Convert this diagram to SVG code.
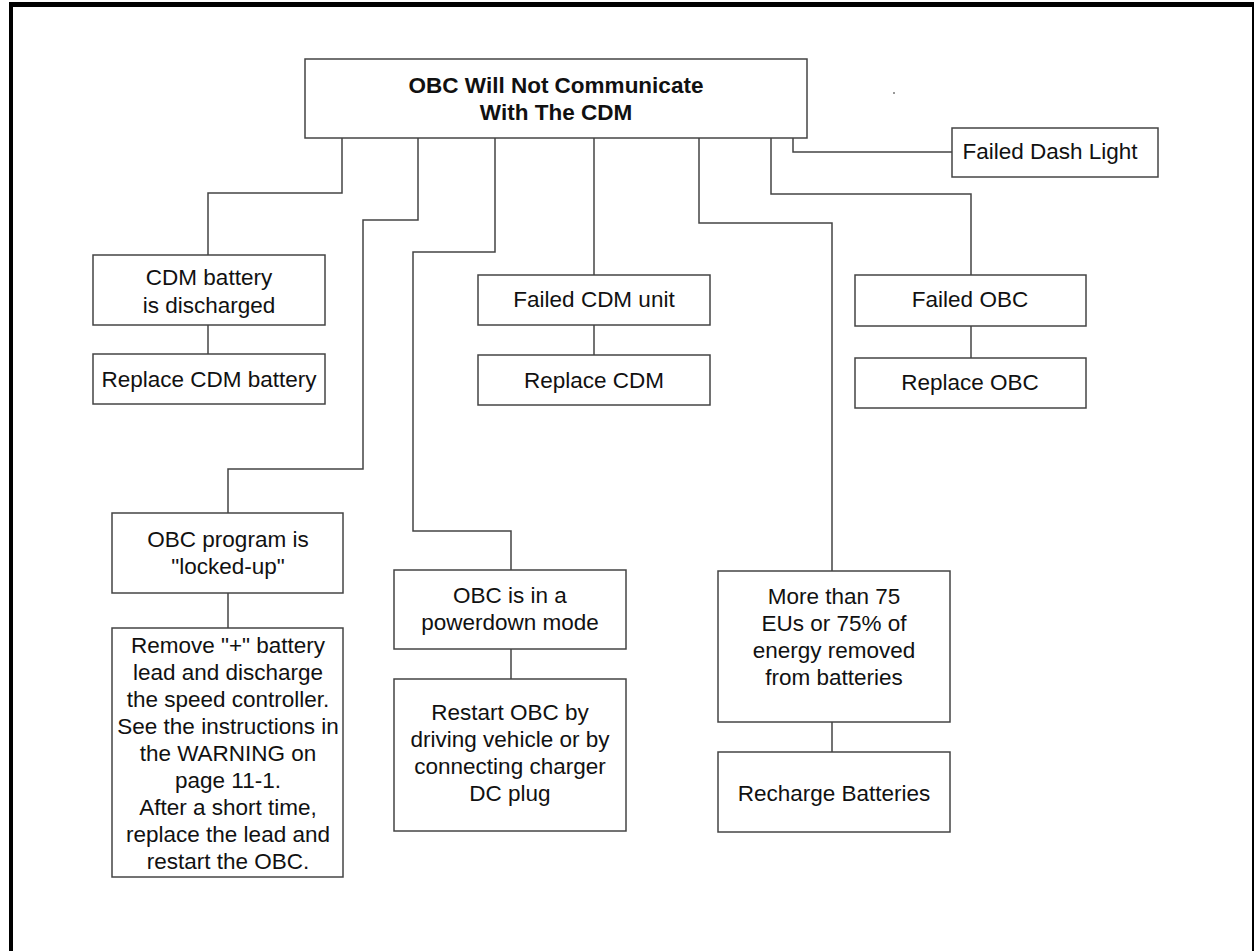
<svg xmlns="http://www.w3.org/2000/svg" width="1254" height="951" viewBox="0 0 1254 951">
<style>
.box{fill:#fff;stroke:#444;stroke-width:1.5}
.c{fill:none;stroke:#444;stroke-width:1.5}
text{font-family:"Liberation Sans",Arial,sans-serif;font-size:22.5px;fill:#111;text-anchor:middle}
.b{font-weight:bold}
</style>
<rect width="1254" height="951" fill="#fff"/>
<g id="frame">
<rect x="9" y="2" width="4" height="949" fill="#000"/>
<rect x="9" y="2" width="1245" height="5" fill="#000"/>
<rect x="1252" y="2" width="2" height="949" fill="#000"/>
</g>
<rect x="893" y="92" width="2" height="2" fill="#999"/>
<g id="connectors">
<path class="c" d="M342,138 V193 H208 V255"/>
<path class="c" d="M208,325 V354"/>
<path class="c" d="M418,138 V220 H363 V469 H228 V513"/>
<path class="c" d="M228,593 V628"/>
<path class="c" d="M495,138 V252 H413 V531 H511 V570"/>
<path class="c" d="M511,649 V679"/>
<path class="c" d="M594,138 V275"/>
<path class="c" d="M594,325 V355"/>
<path class="c" d="M699,138 V223 H832 V571"/>
<path class="c" d="M832,722 V752"/>
<path class="c" d="M771,138 V194 H971 V275"/>
<path class="c" d="M971,326 V358"/>
<path class="c" d="M793,138 V152 H952"/>
</g>
<g id="root">
<rect class="box" x="305" y="59" width="502" height="79"/>
<text class="b" x="556" y="93">OBC Will Not Communicate</text>
<text class="b" x="556" y="120">With The CDM</text>
</g>
<g id="dash">
<rect class="box" x="952" y="128" width="206" height="49"/>
<text x="1050" y="159">Failed Dash Light</text>
</g>
<g id="cdmbatt">
<rect class="box" x="93" y="255" width="232" height="70"/>
<text x="209" y="285">CDM battery</text>
<text x="209" y="313">is discharged</text>
</g>
<g id="replbatt">
<rect class="box" x="93" y="354" width="232" height="50"/>
<text x="209" y="387">Replace CDM battery</text>
</g>
<g id="failcdm">
<rect class="box" x="478" y="275" width="232" height="50"/>
<text x="594" y="307">Failed CDM unit</text>
</g>
<g id="replcdm">
<rect class="box" x="478" y="355" width="232" height="50"/>
<text x="594" y="388">Replace CDM</text>
</g>
<g id="failobc">
<rect class="box" x="855" y="275" width="231" height="51"/>
<text x="970" y="307">Failed OBC</text>
</g>
<g id="replobc">
<rect class="box" x="855" y="358" width="231" height="50"/>
<text x="970" y="390">Replace OBC</text>
</g>
<g id="locked">
<rect class="box" x="112" y="513" width="231" height="80"/>
<text x="228" y="547">OBC program is</text>
<text x="228" y="574">"locked-up"</text>
</g>
<g id="remove">
<rect class="box" x="112" y="628" width="231" height="249"/>
<text x="228" y="653">Remove "+" battery</text>
<text x="228" y="680">lead and discharge</text>
<text x="228" y="707">the speed controller.</text>
<text x="228" y="734">See the instructions in</text>
<text x="228" y="761">the WARNING on</text>
<text x="228" y="788">page 11-1.</text>
<text x="228" y="815">After a short time,</text>
<text x="228" y="842">replace the lead and</text>
<text x="228" y="869">restart the OBC.</text>
</g>
<g id="powerdown">
<rect class="box" x="394" y="570" width="232" height="79"/>
<text x="510" y="603">OBC is in a</text>
<text x="510" y="630">powerdown mode</text>
</g>
<g id="restart">
<rect class="box" x="394" y="679" width="232" height="152"/>
<text x="510" y="720">Restart OBC by</text>
<text x="510" y="747">driving vehicle or by</text>
<text x="510" y="774">connecting charger</text>
<text x="510" y="801">DC plug</text>
</g>
<g id="morethan">
<rect class="box" x="718" y="571" width="232" height="151"/>
<text x="834" y="604">More than 75</text>
<text x="834" y="631">EUs or 75% of</text>
<text x="834" y="658">energy removed</text>
<text x="834" y="685">from batteries</text>
</g>
<g id="recharge">
<rect class="box" x="718" y="752" width="232" height="80"/>
<text x="834" y="801">Recharge Batteries</text>
</g>
</svg>
